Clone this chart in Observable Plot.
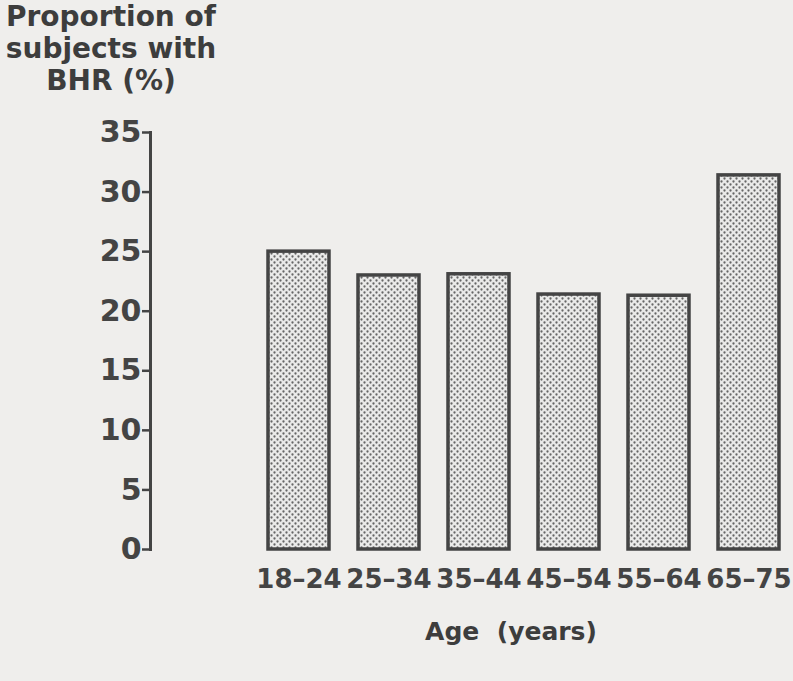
<!DOCTYPE html>
<html><head><meta charset="utf-8">
<script src="https://cdn.jsdelivr.net/npm/d3@7"></script>
<script src="https://cdn.jsdelivr.net/npm/@observablehq/plot@0.6"></script>
<style>
html,body{margin:0;padding:0;background:#efeeec;}
#wrap{position:relative;width:793px;height:681px;overflow:hidden;font-family:"DejaVu Sans",sans-serif;font-weight:bold;color:#3d3d3d;}
#ytitle{position:absolute;left:0;top:1px;width:222px;text-align:center;font-size:28px;line-height:32px;}
#xtitle{position:absolute;left:391px;top:617px;width:240px;text-align:center;font-size:25px;white-space:pre;}
#chart{position:absolute;left:0;top:0;}
</style></head>
<body>
<div id="wrap">
  <div id="chart"></div>
  <div id="ytitle">Proportion of<br>subjects with<br>BHR (%)</div>
  <div id="xtitle">Age  (years)</div>
</div>
<script>
const ages = ["18–24", "25–34", "35–44", "45–54", "55–64", "65–75"];
const values = [25.0, 23.0, 23.1, 21.4, 21.3, 31.4];
const yTicks = [0, 5, 10, 15, 20, 25, 30, 35];

const data = ages.map((a, i) => ({age: a, value: values[i]}));
const ink = "#444";

const chart = Plot.plot({
  width: 793,
  height: 681,
  marginLeft: 150,
  marginRight: 0,
  marginTop: 132,
  marginBottom: 132,
  style: {background: "transparent", fontFamily: "'DejaVu Sans', sans-serif", fontWeight: "bold", fontSize: "26px", color: ink},
  x: {domain: ages, paddingInner: 0.32, paddingOuter: 0.728, align: 0.897, label: null},
  y: {domain: [0, 35], label: null},
  marks: [
    Plot.barY(data, {x: "age", y: "value", fill: "url(#dots)", stroke: ink, strokeWidth: 3.5}),
    Plot.frame({anchor: "left", stroke: ink, strokeWidth: 3}),
    Plot.axisY({ticks: yTicks, tickSize: 8, tickPadding: 1, label: null, stroke: ink, strokeWidth: 2.5, fontSize: 30}),
    Plot.axisX({tickSize: 0, tickPadding: 20, label: null, fontSize: 26})
  ]
});

const ns = "http://www.w3.org/2000/svg";
const defs = document.createElementNS(ns, "defs");
defs.innerHTML = '<pattern id="dots" width="6" height="6" patternUnits="userSpaceOnUse">' +
  '<rect width="6" height="6" fill="#eaeae9"/>' +
  '<circle cx="1.5" cy="1.5" r="1.15" fill="#666"/>' +
  '<circle cx="4.5" cy="4.5" r="1.15" fill="#666"/></pattern>';
chart.insertBefore(defs, chart.firstChild);
document.getElementById("chart").appendChild(chart);
</script>
</body></html>
